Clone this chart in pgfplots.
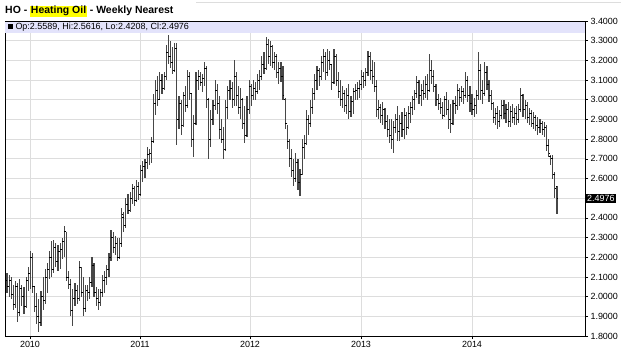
\documentclass[border=0pt]{standalone}
\usepackage{pgfplots}
\pgfplotsset{compat=1.18}
\usepackage{pgfplotstable}
\usepackage{fontspec}
\setmainfont{Liberation Sans}
\definecolor{lav}{HTML}{E3E3FB}
\definecolor{gridc}{HTML}{DDDDDD}
\definecolor{hil}{HTML}{FFFF00}
\pgfdeclareplotmark{ctick}{\pgfpathmoveto{\pgfpoint{0pt}{0pt}}\pgfpathlineto{\pgfpoint{1.4bp}{0pt}}\pgfusepathqstroke}
\pgfdeclareplotmark{otick}{\pgfpathmoveto{\pgfpoint{0pt}{0pt}}\pgfpathlineto{\pgfpoint{-1.4bp}{0pt}}\pgfusepathqstroke}
\pgfplotstableread{
i o h l c
0 2.08 2.12 2.02 2.05
1 2.05 2.11 2.00 2.08
2 2.08 2.10 1.99 2.01
3 2.01 2.06 1.93 1.96
4 1.96 2.08 1.94 2.05
5 2.05 2.07 1.87 1.92
6 1.92 2.09 1.90 2.04
7 2.04 2.06 1.95 2.00
8 2.00 2.05 1.91 1.95
9 1.95 2.10 1.94 2.08
10 2.08 2.15 2.03 2.12
11 2.12 2.23 2.04 2.20
12 2.20 2.22 2.02 2.05
13 2.05 2.05 1.92 1.95
14 1.95 2.02 1.86 1.90
15 1.90 1.99 1.82 1.87
16 1.87 2.03 1.85 2.00
17 2.00 2.10 1.93 1.98
18 1.98 2.14 1.96 2.10
19 2.10 2.17 2.02 2.14
20 2.14 2.23 2.09 2.20
21 2.20 2.28 2.10 2.14
22 2.14 2.29 2.12 2.25
23 2.25 2.27 2.15 2.18
24 2.18 2.26 2.13 2.23
25 2.23 2.27 2.14 2.24
26 2.24 2.30 2.19 2.28
27 2.28 2.36 2.20 2.33
28 2.33 2.33 2.08 2.10
29 2.10 2.13 2.04 2.06
30 2.06 2.09 1.90 1.93
31 1.93 2.04 1.85 1.99
32 1.99 2.07 1.95 2.03
33 2.03 2.06 1.96 1.99
34 1.99 2.18 1.98 2.15
35 2.15 2.15 2.00 2.02
36 2.02 2.10 1.90 1.94
37 1.94 2.06 1.92 2.03
38 2.03 2.06 1.98 2.02
39 2.02 2.10 1.99 2.07
40 2.07 2.20 2.05 2.16
41 2.16 2.17 2.00 2.02
42 2.02 2.05 1.95 1.99
43 1.99 2.04 1.93 1.97
44 1.97 2.04 1.95 2.02
45 2.02 2.11 2.00 2.08
46 2.08 2.13 2.02 2.10
47 2.10 2.16 2.06 2.14
48 2.14 2.22 2.10 2.20
49 2.20 2.34 2.18 2.30
50 2.30 2.33 2.22 2.25
51 2.25 2.31 2.21 2.27
52 2.27 2.30 2.18 2.20
53 2.20 2.30 2.19 2.27
54 2.27 2.45 2.25 2.42
55 2.40 2.43 2.33 2.36
56 2.36 2.50 2.35 2.47
57 2.47 2.52 2.42 2.44
58 2.44 2.53 2.43 2.50
59 2.50 2.57 2.47 2.55
60 2.55 2.56 2.46 2.49
61 2.49 2.59 2.48 2.56
62 2.56 2.58 2.49 2.52
63 2.52 2.67 2.51 2.64
64 2.64 2.69 2.58 2.66
65 2.66 2.70 2.60 2.68
66 2.68 2.76 2.65 2.72
67 2.72 2.75 2.67 2.73
68 2.73 2.81 2.68 2.79
69 2.79 3.03 2.78 2.98
70 2.98 3.10 2.92 3.05
71 3.05 3.12 2.97 3.00
72 3.00 3.14 3.00 3.10
73 3.10 3.13 3.03 3.06
74 3.06 3.14 3.05 3.12
75 3.12 3.28 3.10 3.24
76 3.24 3.33 3.18 3.22
77 3.22 3.30 3.16 3.19
78 3.19 3.27 3.13 3.15
79 3.15 3.29 3.14 3.26
80 3.26 3.29 2.77 2.90
81 2.90 3.02 2.85 2.98
82 2.98 3.00 2.82 2.87
83 2.87 3.04 2.86 3.02
84 3.02 3.07 2.94 2.97
85 2.97 3.15 2.96 3.12
86 3.12 3.14 3.00 3.03
87 3.03 3.03 2.76 2.80
88 2.80 2.92 2.71 2.88
89 2.88 3.14 2.87 3.10
90 3.10 3.15 3.05 3.12
91 3.12 3.14 3.07 3.09
92 3.09 3.13 3.04 3.11
93 3.11 3.19 3.07 3.16
94 3.16 3.17 2.96 3.00
95 3.00 3.01 2.70 2.80
96 2.80 2.95 2.76 2.90
97 2.90 3.00 2.87 2.97
98 2.97 3.10 2.95 3.05
99 3.05 3.08 2.93 2.98
100 2.98 3.02 2.80 2.85
101 2.85 2.90 2.78 2.80
102 2.80 2.86 2.70 2.75
103 2.75 3.00 2.74 2.96
104 2.96 3.07 2.90 3.05
105 3.05 3.10 3.00 3.06
106 3.06 3.09 2.96 3.00
107 3.00 3.20 2.97 3.12
108 3.12 3.14 2.97 3.02
109 3.02 3.07 2.93 2.96
110 2.96 3.06 2.90 3.00
111 3.00 3.01 2.85 2.88
112 2.88 2.97 2.78 2.82
113 2.82 3.02 2.81 2.95
114 2.95 3.10 2.93 3.07
115 3.07 3.08 2.97 3.02
116 3.02 3.10 3.00 3.06
117 3.06 3.09 3.00 3.04
118 3.04 3.13 3.03 3.10
119 3.10 3.15 3.05 3.12
120 3.12 3.22 3.10 3.18
121 3.18 3.24 3.13 3.16
122 3.16 3.32 3.15 3.28
123 3.28 3.31 3.18 3.22
124 3.22 3.30 3.17 3.27
125 3.27 3.28 3.16 3.19
126 3.19 3.24 3.15 3.22
127 3.22 3.23 3.11 3.14
128 3.14 3.19 3.08 3.16
129 3.16 3.19 3.09 3.12
130 3.12 3.17 3.00 3.02
131 3.00 3.01 2.85 2.88
132 2.88 2.87 2.75 2.79
133 2.79 2.80 2.66 2.70
134 2.70 2.75 2.61 2.64
135 2.64 2.70 2.56 2.60
136 2.60 2.73 2.58 2.68
137 2.68 2.70 2.54 2.58
138 2.58 2.65 2.51 2.62
139 2.62 2.80 2.62 2.76
140 2.76 2.82 2.70 2.78
141 2.78 2.95 2.77 2.90
142 2.90 2.92 2.82 2.88
143 2.88 3.00 2.86 2.96
144 2.96 3.06 2.93 3.03
145 3.03 3.13 3.00 3.10
146 3.10 3.17 3.05 3.15
147 3.15 3.16 3.07 3.12
148 3.12 3.22 3.10 3.19
149 3.19 3.26 3.14 3.22
150 3.22 3.24 3.10 3.14
151 3.14 3.26 3.12 3.20
152 3.20 3.25 3.15 3.18
153 3.18 3.18 3.05 3.09
154 3.09 3.26 3.08 3.22
155 3.22 3.23 3.07 3.10
156 3.10 3.14 3.01 3.04
157 3.04 3.10 2.97 3.00
158 3.00 3.07 2.96 3.03
159 3.03 3.05 2.94 2.97
160 2.97 3.06 2.93 3.02
161 3.02 3.08 2.90 2.94
162 2.94 3.02 2.91 2.99
163 2.99 3.06 2.93 3.04
164 3.04 3.08 3.00 3.05
165 3.05 3.09 3.00 3.06
166 3.06 3.10 3.01 3.08
167 3.08 3.15 3.05 3.12
168 3.12 3.14 3.06 3.10
169 3.10 3.16 3.07 3.14
170 3.14 3.25 3.12 3.22
171 3.22 3.24 3.10 3.15
172 3.15 3.20 3.08 3.12
173 3.12 3.19 3.04 3.07
174 3.07 3.10 2.91 2.95
175 2.95 3.00 2.90 2.96
176 2.96 2.98 2.88 2.92
177 2.92 2.99 2.87 2.95
178 2.95 2.96 2.85 2.89
179 2.89 2.92 2.81 2.85
180 2.85 2.90 2.78 2.82
181 2.82 2.90 2.75 2.80
182 2.80 2.89 2.73 2.86
183 2.86 2.93 2.83 2.90
184 2.90 2.97 2.79 2.84
185 2.84 2.92 2.79 2.88
186 2.88 2.94 2.81 2.85
187 2.85 2.96 2.80 2.92
188 2.92 2.94 2.82 2.86
189 2.86 2.97 2.85 2.93
190 2.93 2.99 2.88 2.96
191 2.96 3.02 2.92 3.00
192 3.00 3.05 2.95 3.03
193 3.03 3.12 3.01 3.09
194 3.09 3.10 2.98 3.02
195 3.02 3.08 2.97 3.05
196 3.05 3.10 3.00 3.03
197 3.03 3.12 3.01 3.08
198 3.08 3.13 3.00 3.05
199 3.05 3.23 3.04 3.15
200 3.15 3.20 3.08 3.12
201 3.12 3.15 3.04 3.07
202 3.07 3.08 2.97 3.00
203 3.00 3.03 2.95 2.98
204 2.98 3.01 2.93 2.96
205 2.96 2.99 2.90 2.92
206 2.92 3.02 2.91 3.00
207 3.00 3.04 2.92 2.95
208 2.95 3.00 2.85 2.90
209 2.90 2.98 2.83 2.88
210 2.88 3.00 2.87 2.98
211 2.98 3.02 2.93 2.97
212 2.97 3.08 2.95 3.05
213 3.05 3.06 2.97 3.01
214 3.01 3.07 2.99 3.04
215 3.04 3.06 2.98 3.02
216 3.02 3.14 3.01 3.10
217 3.10 3.12 2.99 3.02
218 3.02 3.07 2.94 2.98
219 2.98 3.03 2.92 2.95
220 2.95 3.01 2.91 2.97
221 2.97 3.05 2.93 3.02
222 3.02 3.24 3.00 3.15
223 3.15 3.18 3.00 3.05
224 3.05 3.10 2.98 3.03
225 3.03 3.19 3.02 3.14
226 3.14 3.17 3.05 3.08
227 3.08 3.10 2.99 3.02
228 3.02 3.05 2.95 2.98
229 2.98 2.99 2.88 2.91
230 2.91 2.96 2.87 2.93
231 2.93 2.97 2.85 2.89
232 2.89 2.95 2.86 2.92
233 2.92 3.00 2.90 2.97
234 2.97 3.00 2.90 2.93
235 2.93 2.98 2.88 2.95
236 2.95 2.99 2.86 2.89
237 2.89 2.97 2.86 2.94
238 2.94 2.98 2.88 2.91
239 2.91 2.96 2.87 2.93
240 2.93 2.97 2.87 2.90
241 2.90 2.98 2.88 2.95
242 2.95 3.06 2.94 3.02
243 3.02 3.03 2.91 2.95
244 2.95 3.00 2.90 2.97
245 2.97 2.99 2.88 2.91
246 2.91 2.96 2.87 2.93
247 2.93 2.95 2.86 2.88
248 2.88 2.94 2.85 2.91
249 2.91 2.92 2.84 2.87
250 2.87 2.91 2.82 2.86
251 2.86 2.90 2.83 2.88
252 2.88 2.89 2.82 2.85
253 2.85 2.885 2.81 2.86
254 2.86 2.87 2.74 2.77
255 2.77 2.80 2.71 2.73
256 2.71 2.72 2.67 2.70
257 2.70 2.72 2.595 2.62
258 2.62 2.635 2.50 2.55
259 2.5589 2.5616 2.4208 2.4976
}\data
\begin{document}
\begin{tikzpicture}
\useasboundingbox (0,0) rectangle (621bp,352bp);
\draw[gridc, line width=0.6bp] (196bp,349.5bp) -- (621bp,349.5bp);
\node[anchor=base west, inner sep=0pt, font=\bfseries\fontsize{10.5}{12}\selectfont] at (5bp,338bp)
  {HO - {\setlength{\fboxsep}{0.8bp}\colorbox{hil}{Heating Oil}} - Weekly Nearest};
\begin{axis}[
  at={(5bp,16bp)}, anchor=south west,
  scale only axis, width=580bp, height=315bp,
  xmin=-0.94, xmax=272.18, ymin=1.8, ymax=3.4,
  xtick={10.83,62.63,114.43,166.70,218.97},
  xticklabels={2010,2011,2012,2013,2014},
  ytick={1.8,1.9,2.0,2.1,2.2,2.3,2.4,2.5,2.6,2.7,2.8,2.9,3.0,3.1,3.2,3.3,3.4},
  yticklabels={1.8000,1.9000,2.0000,2.1000,2.2000,2.3000,2.4000,{},2.6000,2.7000,2.8000,2.9000,3.0000,3.1000,3.2000,3.3000,3.4000},
  yticklabel pos=right, ytick pos=right, xtick pos=bottom,
  tick align=outside, major tick length=3bp,
  grid=major, grid style={gridc, line width=0.7bp},
  axis line style={black, line width=0.8bp},
  tick style={black, line width=0.6bp},
  ticklabel style={font=\fontsize{9}{10}\selectfont},
  yticklabel style={xshift=-1bp},
  xticklabel style={yshift=1bp},
  /pgf/number format/assume math mode=true,
  clip=false,
]
\fill[lav] (rel axis cs:0,1) rectangle (rel axis cs:1,0.962);
\draw[black, line width=0.8bp] (rel axis cs:0,1) -- (rel axis cs:1,1);
\node[anchor=west, inner sep=0pt, font=\fontsize{9}{10}\selectfont] at (rel axis cs:0.004,0.981)
  {\rule{5.5bp}{5.5bp} Op:2.5589, Hi:2.5616, Lo:2.4208, Cl:2.4976};
\addplot[only marks, mark=ctick, mark options={black, line width=0.8bp},
  error bars/.cd, y dir=both, y explicit, error mark=none,
  error bar style={black!72, line width=1.15bp}]
  table[x=i, y=c, y error plus expr=\thisrow{h}-\thisrow{c}, y error minus expr=\thisrow{c}-\thisrow{l}] {\data};
\addplot[only marks, mark=otick, mark options={black, line width=0.8bp}]
  table[x=i, y=o] {\data};
\node[anchor=west, fill=black, text=white, inner sep=1bp, font=\fontsize{9}{10}\selectfont] at (axis cs:272.18,2.4976) {\hspace{1bp}2.4976};
\end{axis}
\end{tikzpicture}
\end{document}
